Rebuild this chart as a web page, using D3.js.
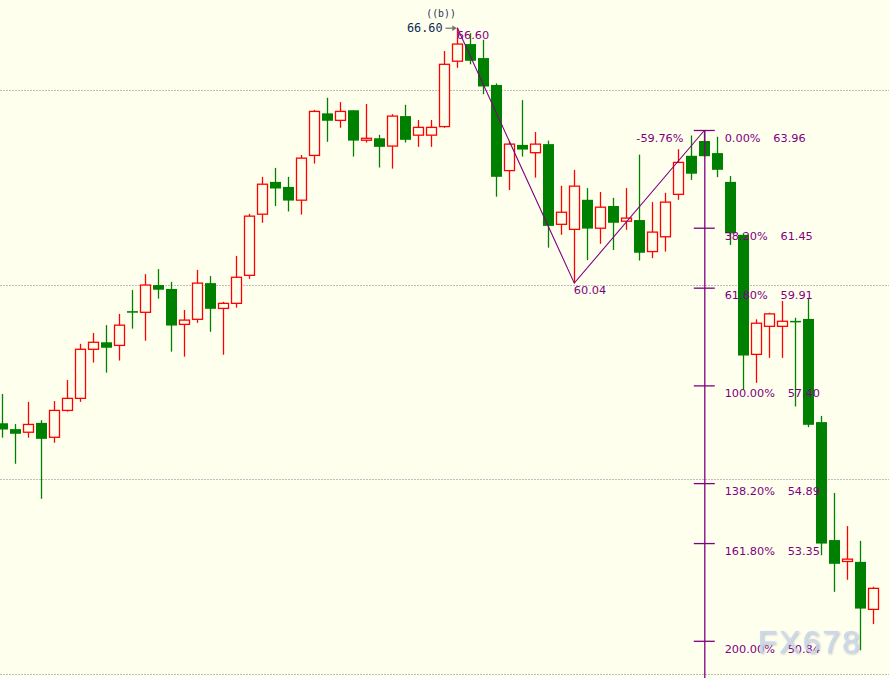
<!DOCTYPE html>
<html>
<head>
<meta charset="utf-8">
<script src="https://cdn.jsdelivr.net/npm/d3@7/dist/d3.min.js"></script>
<style>
html,body{margin:0;padding:0;background:#FFFFEE;overflow:hidden;}
svg{display:block;}
</style>
</head>
<body>
<svg id="chart" width="889" height="678"></svg>
<script>
// ---- data ----
const opens  = [56.44,56.29,56.21,56.45,56.08,56.77,57.08,58.34,58.52,58.44,
                59.32,59.29,59.99,59.89,58.98,59.11,60.04,59.39,59.52,60.24,
                61.81,62.64,62.51,62.17,63.32,64.40,64.22,64.48,63.71,63.76,
                63.56,64.33,63.84,63.84,64.06,65.74,66.18,65.82,65.13,62.93,
                63.59,63.39,63.61,61.55,61.42,62.18,61.45,62.02,61.63,61.66,
                60.85,61.23,62.32,63.31,63.69,63.38,62.64,61.28,58.21,58.93,
                58.93,59.07,59.12,56.47,53.44,52.89,52.88,51.66];
const closes = [56.28,56.17,56.41,56.04,56.77,57.08,58.34,58.52,58.38,58.96,
                59.28,59.99,59.87,58.95,59.09,60.04,59.38,59.52,60.19,61.76,
                62.58,62.47,62.16,63.25,64.45,64.21,64.45,63.70,63.76,63.54,
                64.33,63.72,64.04,64.04,65.66,66.18,65.75,65.09,62.77,63.61,
                63.47,63.61,61.51,61.86,62.53,61.44,61.99,61.59,61.71,60.82,
                61.35,62.12,63.14,62.85,63.30,62.95,61.32,58.18,59.01,59.25,
                59.06,59.05,56.40,53.35,52.83,52.95,51.68,52.20];
const highs  = [57.19,56.42,56.99,56.52,57.01,57.55,58.48,58.76,58.96,59.25,
                59.86,60.27,60.40,60.07,59.35,60.38,60.22,59.56,60.74,61.82,
                62.77,63.00,62.77,63.33,64.49,64.80,64.69,64.48,64.64,63.85,
                64.38,64.62,64.23,64.23,66.00,66.60,66.46,66.29,65.17,63.67,
                64.74,63.92,63.70,62.54,62.95,62.48,62.38,62.23,62.48,63.34,
                62.12,62.36,63.48,63.83,63.96,63.80,62.79,61.32,59.11,59.28,
                59.58,59.15,59.65,56.63,54.65,53.80,53.42,52.24];
const lows   = [56.07,55.40,56.07,54.50,55.94,56.74,56.99,58.00,57.74,58.05,
                58.87,58.56,59.64,58.28,58.15,59.02,58.79,58.20,59.41,60.15,
                61.59,62.02,61.88,61.80,63.11,63.67,64.03,63.29,63.65,63.01,
                62.98,63.65,63.54,63.54,64.03,65.57,65.66,64.89,62.26,62.43,
                63.29,62.75,60.95,61.28,60.04,60.63,61.05,60.89,61.41,60.62,
                60.68,60.85,62.18,62.69,63.29,62.76,61.02,57.30,57.48,58.12,
                58.12,56.87,56.34,53.05,52.11,52.42,50.61,51.28];

const gridPrices = [65, 60, 55, 50];

const zigzagIdx    = [35, 44, 54];
const zigzagPrices = [66.60, 60.04, 63.96];
const zigzagLabels = ["66.60", "60.04"];
const retraceLabel = "-59.76%";

const fibIdx     = 54;
const fibPercent = ["0.00%", "38.20%", "61.80%", "100.00%", "138.20%", "161.80%", "200.00%"];
const fibPrices  = [63.96, 61.45, 59.91, 57.40, 54.89, 53.35, 50.84];

const waveLabel  = "((b))";
const waveValue  = "66.60";
const watermark  = "FX678";

// ---- scales ----
const W = 889, H = 678;
const BG = "#FFFFEE", UP = "#FF0000", DOWN = "#008000", FIB = "#800080";
const y = d3.scaleLinear().domain([50, 65]).range([674, 90]);
const x = d3.scaleLinear().domain([0, 67]).range([2.3, 873.3]);

const svg = d3.select("#chart");
svg.append("rect").attr("width", W).attr("height", H).attr("fill", BG);

// grid
svg.append("g").selectAll("line").data(gridPrices).join("line")
  .attr("x1", 0).attr("x2", W)
  .attr("y1", d => Math.round(y(d)) + 0.5).attr("y2", d => Math.round(y(d)) + 0.5)
  .attr("stroke", "#bdbdbd").attr("stroke-width", 1).attr("stroke-dasharray", "2,1");

// candles
const candles = d3.range(opens.length).map(i => ({
  i, o: opens[i], c: closes[i], h: highs[i], l: lows[i], up: closes[i] >= opens[i]
}));
const g = svg.append("g");
candles.forEach(d => {
  const cx = Math.round(x(d.i)) + 0.5;
  const col = d.up ? UP : DOWN;
  const top = y(Math.max(d.o, d.c)), bot = y(Math.min(d.o, d.c));
  if (d.up) {
    g.append("line").attr("x1", cx).attr("x2", cx).attr("y1", y(d.h)).attr("y2", top)
      .attr("stroke", col).attr("stroke-width", 1.3);
    g.append("line").attr("x1", cx).attr("x2", cx).attr("y1", bot).attr("y2", y(d.l))
      .attr("stroke", col).attr("stroke-width", 1.3);
    g.append("rect").attr("x", cx - 5).attr("y", top)
      .attr("width", 10).attr("height", Math.max(bot - top, 1))
      .attr("fill", BG).attr("stroke", col).attr("stroke-width", 1.3);
  } else {
    g.append("line").attr("x1", cx).attr("x2", cx).attr("y1", y(d.h)).attr("y2", y(d.l))
      .attr("stroke", col).attr("stroke-width", 1.3);
    g.append("rect").attr("x", cx - 5.5).attr("y", top)
      .attr("width", 11).attr("height", Math.max(bot - top, 1.5))
      .attr("fill", col);
  }
});

// zigzag
const zz = zigzagIdx.map((d, k) => [x(d), y(zigzagPrices[k])]);
svg.append("path").attr("d", d3.line()(zz))
  .attr("fill", "none").attr("stroke", FIB).attr("stroke-width", 1.1);

const labelFont = "'DejaVu Sans', sans-serif";
zigzagLabels.forEach((t, k) => {
  svg.append("text").attr("x", zz[k][0] - 0.5).attr("y", zz[k][1] + 11.3)
    .attr("fill", FIB).attr("font-family", labelFont).attr("font-size", 11.3).text(t);
});
svg.append("text").attr("x", 683.5).attr("y", y(fibPrices[0]) + 11.3)
  .attr("text-anchor", "end").attr("fill", FIB)
  .attr("font-family", labelFont).attr("font-size", 11.3).text(retraceLabel);

// fibonacci expansion
const fx = x(fibIdx) + 0.5;
svg.append("line").attr("x1", fx).attr("x2", fx)
  .attr("y1", y(fibPrices[0])).attr("y2", H)
  .attr("stroke", FIB).attr("stroke-width", 1.3);
fibPrices.forEach((p, k) => {
  const yy = y(p);
  svg.append("line").attr("x1", fx - 11).attr("x2", fx + 10)
    .attr("y1", yy).attr("y2", yy).attr("stroke", FIB).attr("stroke-width", 1.3);
  const t = svg.append("text").attr("x", 724.7).attr("y", yy + 11.3)
    .attr("fill", FIB).attr("font-family", labelFont).attr("font-size", 11.3)
    .text(fibPercent[k]);
  const len = t.node().getComputedTextLength();
  svg.append("text").attr("x", 724.7 + len + 12.7).attr("y", yy + 11.3)
    .attr("fill", FIB).attr("font-family", labelFont).attr("font-size", 11.3)
    .text(d3.format(".2f")(p));
});

// wave label
const hx = x(zigzagIdx[0]), hy = y(zigzagPrices[0]);
svg.append("text").attr("x", hx - 1.5).attr("y", 16.5).attr("text-anchor", "end")
  .attr("fill", "#1a2f5a").attr("font-family", "'DejaVu Sans Mono', monospace")
  .attr("font-size", 9.8).text(waveLabel);
svg.append("text").attr("x", 442.5).attr("y", 32.3).attr("text-anchor", "end")
  .attr("fill", "#0c2a55").attr("font-family", "'DejaVu Sans Mono', monospace")
  .attr("font-size", 11.8).text(waveValue);
svg.append("line").attr("x1", 445.5).attr("x2", hx - 1).attr("y1", hy + 0.5).attr("y2", hy + 0.5)
  .attr("stroke", "#707070").attr("stroke-width", 1.2);
svg.append("path")
  .attr("d", `M${hx - 1},${hy + 0.5} l-4,-3 l0,6 z`)
  .attr("fill", "#707070");

// watermark
const defs = svg.append("defs");
const f = defs.append("filter").attr("id", "wm").attr("x", "-10%").attr("y", "-20%")
  .attr("width", "130%").attr("height", "150%");
f.append("feDropShadow").attr("dx", 1.2).attr("dy", 1.2).attr("stdDeviation", 0.8)
  .attr("flood-color", "#8e9bb0").attr("flood-opacity", 0.7);
svg.append("text").attr("x", 757.5).attr("y", 653.3)
  .attr("font-family", "'Liberation Sans', Arial, sans-serif").attr("font-size", 32)
  .attr("letter-spacing", 2).attr("fill", "#c9d6e9").attr("opacity", 0.92)
  .attr("filter", "url(#wm)").text(watermark);
</script>
</body>
</html>
